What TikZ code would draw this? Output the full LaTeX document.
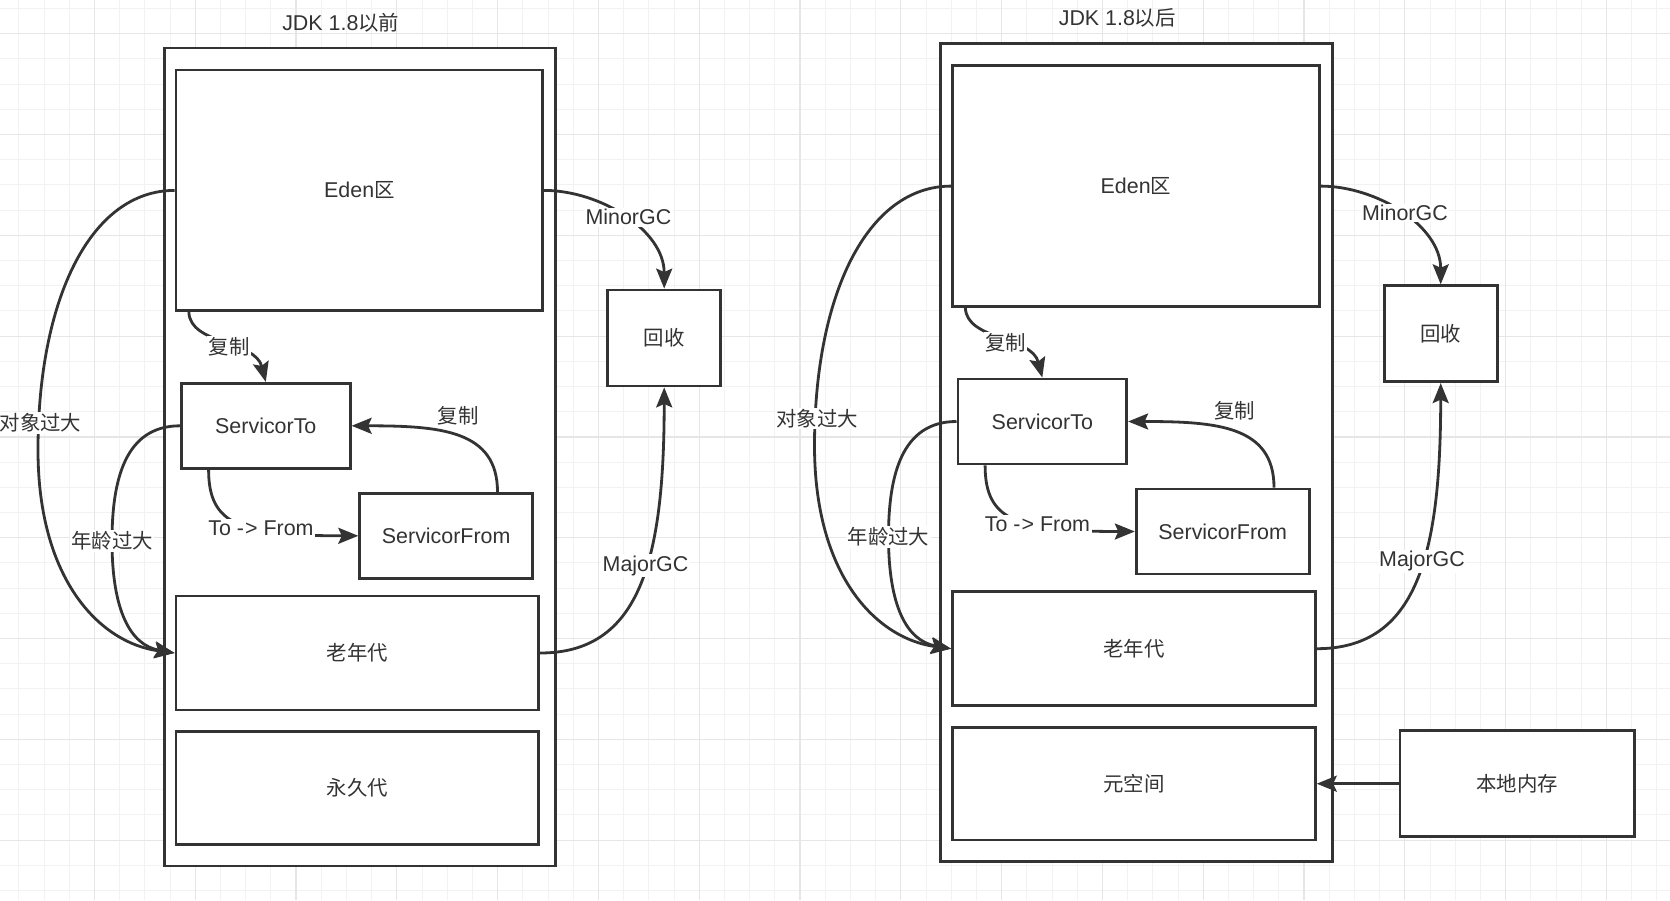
\documentclass[tikz,border=0pt]{standalone}
\usepackage{fontspec}
\setmainfont{Liberation Sans}
\newfontfamily\cjkfont{Noto Sans CJK SC}
\newcommand\zh[1]{{\cjkfont\fontsize{20.5}{24}\selectfont #1}}
\newcommand\mainsz{\fontsize{21.5}{25}\selectfont}
\usetikzlibrary{arrows.meta}
\definecolor{ink}{HTML}{333333}
\definecolor{gridminor}{HTML}{F2F2F2}
\definecolor{gridmajor}{HTML}{E6E6E6}
\tikzset{
  box/.style={draw=ink, line width=2.8bp, fill=white, inner sep=0pt, text=ink, font=\mainsz},
  conn/.style={draw=ink, line width=2.8bp, -{Stealth[length=20bp,width=16bp,inset=3.5bp]}},
  lbl/.style={fill=white, inner sep=1.5bp, text=ink, font=\mainsz},
  ttl/.style={text=ink, font=\mainsz, inner sep=0pt},
}
\newcommand\heappanel[3]{%
  \node[box, minimum width=391.4bp, minimum height=818.1bp] (#1outer) at (360,457) {};
  \node[ttl] (#1title) at (340.8,22.4) {#2};
  \node[box, minimum width=366.7bp, minimum height=240.7bp] (#1eden) at (359.4,190.4) {Eden\zh{区}};
  \node[box, minimum width=168.8bp, minimum height=85bp] (#1to) at (265.8,425.8) {ServicorTo};
  \node[box, minimum width=173bp, minimum height=85bp] (#1from) at (446.2,535.8) {ServicorFrom};
  \node[box, minimum width=362.8bp, minimum height=114bp] (#1old) at (357.4,653) {\zh{老年代}};
  \node[box, minimum width=362.8bp, minimum height=112.6bp] (#1perm) at (357.4,788) {#3};
  \node[box, minimum width=113bp, minimum height=96bp] (#1gc) at (664.2,338) {\zh{回收}};
  % MinorGC
  \draw[conn] (#1eden.east) .. controls (600,190.4) and (664.2,230) .. (#1gc.north);
  \node[lbl] (#1minor) at (628.4,217.3) {MinorGC};
  % MajorGC
  \draw[conn] (#1old.east) .. controls (640,653) and (664.2,560) .. (#1gc.south);
  \node[lbl] (#1major) at (645.5,565.6) {MajorGC};
  % object too large
  \draw[conn] (#1eden.west) .. controls (90,190.4) and (38,300) .. (38,450)
     .. controls (38,580) and (100,643) .. (#1old.west);
  \node[lbl] (#1big) at (40.5,422.8) {\zh{对象过大}};
  % age too large
  \draw[conn] (#1to.west) .. controls (125,425.8) and (112,480) .. (112,541)
     .. controls (112,610) and (130,645) .. (#1old.west);
  \node[lbl] (#1age) at (112,541) {\zh{年龄过大}};
  % copy eden -> to
  \draw[conn] ([xshift=14.2bp]#1eden.south west) .. controls (190.2,345) and (255,340) .. (#1to.north);
  \node[lbl] (#1copya) at (229,347.2) {\zh{复制}};
  % copy from -> to
  \draw[conn] ([xshift=51.3bp]#1from.north) .. controls (497.5,430) and (440,425.8) .. (#1to.east);
  \node[lbl] (#1copyb) at (458,415.4) {\zh{复制}};
  % to -> from
  \draw[conn] ([xshift=-57.2bp]#1to.south) .. controls (208.6,525) and (240,535.8) .. (#1from.west);
  \node[lbl] (#1tofrom) at (261,528.3) {To -\kern1bp> From};
}
\begin{document}
\begin{tikzpicture}[x=1bp, y=-1bp]
  \useasboundingbox (0,0) rectangle (1670,900);
  \clip (0,0) rectangle (1670,900);
  \fill[white] (0,0) rectangle (1670,900);
  % grid
  \foreach \i in {0,...,67} \draw[gridminor, line width=1bp] ({-6.4+25.2*\i},0) -- ++(0,900);
  \foreach \j in {0,...,36} \draw[gridminor, line width=1bp] (0,{8.5+25.2*\j}) -- ++(1670,0);
  \foreach \i in {0,...,15} \draw[gridmajor, line width=1.2bp] ({94.4+100.8*\i},0) -- ++(0,900);
  \foreach \j in {0,...,8} \draw[gridmajor, line width=1.2bp] (0,{33.7+100.8*\j}) -- ++(1670,0);
  % left panel
  \begin{scope}
    \heappanel{l}{JDK 1.8\zh{以前}}{\zh{永久代}}
  \end{scope}
  % right panel
  \begin{scope}[shift={(776.5,-4.3)}]
    \heappanel{r}{JDK 1.8\zh{以后}}{\zh{元空间}}
  \end{scope}
  \node[box, minimum width=234.3bp, minimum height=106bp] (local) at (1517.2,783.7) {\zh{本地内存}};
  \draw[conn] (local.west) -- (local.west -| rperm.east);
\end{tikzpicture}
\end{document}
